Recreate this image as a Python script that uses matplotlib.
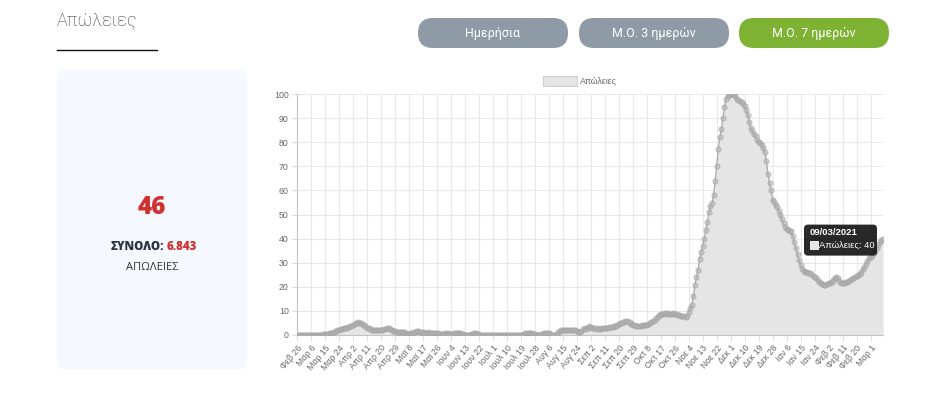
import numpy as np
import pandas as pd
import matplotlib
matplotlib.use("Agg")
import matplotlib.pyplot as plt
from matplotlib.patches import FancyBboxPatch, Rectangle

# 7-day moving average of deaths, month by month
feb20 = [0, 0, 0, 0]
mar20 = [0, 0, 0, 0, 0, 0, 0, 0, 0, 0, 0,
         0.1, 0.1, 0.3, 0.3, 0.4, 0.6,
         0.7, 0.9, 1.0, 1.3, 1.6, 1.9, 2.1, 2.4, 2.6, 2.7, 3.0, 3.1, 3.3, 3.6]
apr20 = [3.9, 4.1, 4.4, 4.9, 5.3, 5.1, 4.9, 4.4, 4.0, 3.6, 3.1,
         2.7, 2.3, 2.1, 2.0, 2.0, 1.9, 2.0, 2.1, 2.0, 2.0, 2.3, 2.6, 3.0, 2.8, 2.4, 2.0, 1.7,
         1.5, 1.4]
may20 = [1.3, 1.3, 1.4, 1.3, 1.1, 1.0, 0.6, 0.4, 0.7, 1.0, 1.1, 1.3, 1.5, 1.7, 1.4, 1.1,
         1.1, 1.0, 1.0, 1.1, 1.0, 1.0, 1.0, 1.0, 0.9, 0.9, 1.0, 0.6, 0.3, 0.4, 0.7]
jun20 = [0.6, 0.7, 0.3, 0.4,
         0.6, 0.7, 0.9, 1.0, 1.0, 0.9, 0.6, 0.3, 0.1, 0.1, 0.1, 0.1, 0.3, 0.6, 0.8, 0.9,
         0.6, 0.3, 0.1, 0, 0, 0, 0, 0, 0, 0]
jul20 = [0, 0, 0, 0, 0, 0, 0, 0, 0, 0, 0, 0, 0, 0, 0, 0, 0, 0, 0, 0,
         0.6, 0.9, 1.0, 1.0, 1.0, 0.9, 0.6,
         0.5, 0.2, 0.1, 0.1]
aug20 = [0.3, 0.6, 0.8, 0.9, 0.9, 0.8, 0.5, 0.2, 0.1, 0.2, 0.6, 1.1, 1.6,
         1.9, 2.0, 2.1, 2.1, 2.0, 2.0, 2.1, 2.0, 2.0, 1.9, 1.7,
         1.4, 1.3, 1.7, 2.3, 2.7, 2.6, 3.0]
sep20 = [3.6, 3.4, 3.0, 2.8, 2.6, 2.7, 2.6, 2.5, 2.7,
         2.9, 3.0, 3.1, 3.1, 3.2, 3.4, 3.5, 3.6, 3.8,
         4.2, 4.5, 4.8, 5.1, 5.4, 5.7, 5.8,
         5.6, 5.2, 4.7, 4.3, 4.0]
oct20 = [3.9, 3.8, 3.9, 3.9, 4.0, 4.0, 4.0, 4.1, 4.4, 4.8,
         5.3, 5.8, 6.4, 7.0, 7.6, 8.2, 8.6,
         8.8, 8.9, 9.0, 9.0, 8.9, 8.9, 8.9, 9.0, 8.9,
         8.7, 8.5, 8.3, 8.0, 7.9]
nov20 = [7.8, 7.6, 7.9,
         9.7, 11, 12.4, 16, 20.7, 24, 27, 31.5, 34.5, 37, 40, 43.5, 47, 51, 53.5, 54.6,
         58, 64, 70, 77, 82, 85.5, 90, 94.5, 98, 99, 99.5]
dec20 = [100, 100, 99.8, 99, 98, 97.5, 97, 96.8, 96, 95, 93.5, 91.3, 88.5, 86, 84.5,
         83.5, 82.5, 81, 80, 79.5, 79, 77.5, 76, 72, 67, 63, 60, 56, 55, 54, 53]
jan21 = [51.5, 50, 48, 46.5, 45, 44, 43.5, 43.3, 43, 41, 38.5, 36, 33.5, 31, 29,
         27.5, 26.5, 26.2, 26, 25.8, 25.6, 25.2, 24.6, 24.2, 23.5, 22.7, 22, 21.6,
         21.2, 20.8, 20.7]
feb21 = [21, 21.4, 21.5, 22, 22.7, 23.6, 24.2, 23.5, 22.5, 21.6, 21.4, 21.5, 21.8, 22,
         22.3, 22.8, 23.3, 23.6, 24, 24.5, 25, 25.3, 26.2, 27.3, 28.4, 29.5, 30.6, 31.8]
mar21 = [32.5, 33.3, 34.2, 35, 36, 37.2, 38.5, 39.4, 40]

deaths = feb20 + mar20 + apr20 + may20 + jun20 + jul20 + aug20 + sep20 + oct20 + nov20 + dec20 + jan21 + feb21 + mar21
dates = pd.date_range("2020-02-26", periods=len(deaths), freq="D")
greek_months = ['Ιαν', 'Φεβ', 'Μαρ', 'Απρ', 'Μαϊ', 'Ιουν', 'Ιουλ', 'Αυγ', 'Σεπ', 'Οκτ', 'Νοε', 'Δεκ']

today_value = "46"
total_value = "6.843"
buttons = ['Ημερήσια', 'Μ.Ο. 3 ημερών', 'Μ.Ο. 7 ημερών']

W, H = 948, 398
fig = plt.figure(figsize=(W / 100, H / 100), dpi=100)
fig.patch.set_facecolor('white')

# background layer in pixel coordinates
bg = fig.add_axes([0, 0, 1, 1])
bg.set_xlim(0, W)
bg.set_ylim(H, 0)
bg.axis('off')

bg.text(57, 21, 'Απώλειες', fontsize=13, family='Roboto', weight='light',
        color='#333333', va='center', ha='left')
bg.plot([57, 157], [50, 50], color='#111111', lw=1)

btn_x = [418, 579, 739]
btn_colors = ['#8e9aa5', '#8e9aa5', '#7db233']
for x0, label, c in zip(btn_x, buttons, btn_colors):
    bg.add_patch(FancyBboxPatch((x0, 18), 150, 30,
                                boxstyle="round,pad=0,rounding_size=15",
                                fc=c, ec='none'))
    bg.text(x0 + 75, 33, label, fontsize=9, family='Roboto', color='white',
            ha='center', va='center')

# summary card
bg.add_patch(FancyBboxPatch((57, 70), 190, 299, boxstyle="round,pad=0,rounding_size=8",
                            fc='#f5f8fe', ec='none'))
bg.text(152, 208, today_value, fontsize=17.5, family='Open Sans', weight='heavy',
        color='#d0312d', ha='center', va='center')
bg.text(164, 247, 'ΣΥΝΟΛΟ:', fontsize=8.3, family='Open Sans', weight='heavy',
        color='#2b3242', ha='right', va='center')
bg.text(167, 247, total_value, fontsize=8.3, family='Open Sans', weight='heavy',
        color='#d0312d', ha='left', va='center')
bg.text(152, 267, 'ΑΠΩΛΕΙΕΣ', fontsize=8, family='Open Sans',
        color='#333333', ha='center', va='center')

# legend
bg.add_patch(Rectangle((543, 76), 34, 10, fc='#e5e5e5', ec='#cfcfcf', lw=0.8))
bg.text(580, 81, 'Απώλειες', fontsize=6.3, family='Liberation Sans',
        color='#666666', ha='left', va='center')

# chart
ax = fig.add_axes([297 / W, 1 - 335 / H, (883 - 297) / W, (335 - 94) / H])
x = np.arange(len(deaths))
ax.fill_between(x, deaths, 0, color='#e5e5e5', lw=0, zorder=1)
ax.plot(x, deaths, color='#a8a8a8', lw=0.9, zorder=2)
ax.plot(x, deaths, 'o', ms=3.8, mfc='#b4b4b4', mec='#9a9a9a', mew=0.5, alpha=0.65, zorder=3)

ax.set_xlim(0, len(deaths) - 1)
ax.set_ylim(0, 100)
ticks = np.arange(0, len(deaths), 9)
ax.set_xticks(ticks)
ax.set_xticklabels([f"{greek_months[dates[i].month - 1]} {dates[i].day}" for i in ticks],
                   rotation=50, ha='right', va='top', rotation_mode='anchor')
ax.set_yticks(np.arange(0, 101, 10))
ax.tick_params(axis='both', labelsize=6.3, colors='#e0e0e0', labelcolor='#666666',
               length=4, width=0.8, pad=2)
for lab in ax.get_xticklabels() + ax.get_yticklabels():
    lab.set_family('Liberation Sans')
ax.grid(True, color='#e8e8e8', lw=0.8)
ax.set_axisbelow(True)
for side in ['top', 'right']:
    ax.spines[side].set_visible(False)
for side in ['left', 'bottom']:
    ax.spines[side].set_color('#c4c4c4')
    ax.spines[side].set_linewidth(0.8)
ax.patch.set_alpha(0)

# tooltip at the last point
px, py = ax.transData.transform((x[-1], deaths[-1]))
tx, ty = px, H - py
tip = fig.add_axes([0, 0, 1, 1])
tip.set_xlim(0, W)
tip.set_ylim(H, 0)
tip.axis('off')
tip.add_patch(FancyBboxPatch((tx - 79, ty - 14), 73, 31, boxstyle="round,pad=0,rounding_size=4",
                             fc='#111111', ec='none', alpha=0.9))
tip.text(tx - 73, ty - 6, dates[-1].strftime('%d/%m/%Y'), fontsize=6.8, weight='bold',
         family='Liberation Sans', color='white', ha='left', va='center')
tip.add_patch(Rectangle((tx - 73, ty + 2), 8, 8, fc='#e5e5e5', ec='white', lw=0.6))
tip.text(tx - 63.5, ty + 6, f"Απώλειες: {deaths[-1]:g}", fontsize=6.8,
         family='Liberation Sans', color='white', ha='left', va='center')

fig.savefig("out.png", dpi=100)
